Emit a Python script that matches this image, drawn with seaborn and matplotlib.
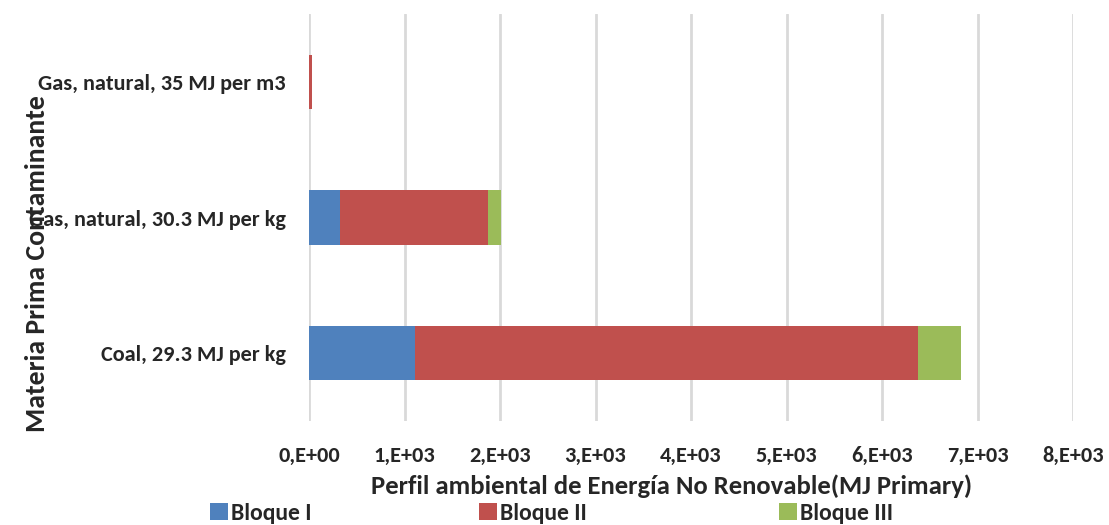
import numpy as np
import pandas as pd
import matplotlib
matplotlib.use("Agg")
import matplotlib.pyplot as plt
import seaborn as sns
from matplotlib.patches import Patch

categories = ["Gas, natural, 35 MJ per m3", "Gas, natural, 30.3 MJ per kg", "Coal, 29.3 MJ per kg"]
bloque_i = [0.0, 320.0, 1110.0]
bloque_ii = [30.0, 1555.0, 5270.0]
bloque_iii = [0.0, 135.0, 445.0]
series_names = ["Bloque I", "Bloque II", "Bloque III"]
x_ticks = [0, 1000, 2000, 3000, 4000, 5000, 6000, 7000, 8000]
x_tick_labels = ["0,E+00", "1,E+03", "2,E+03", "3,E+03", "4,E+03", "5,E+03", "6,E+03", "7,E+03", "8,E+03"]
x_label = "Perfil ambiental de Energía No Renovable(MJ Primary)"
y_label = "Materia Prima Contaminante"

colors = ["#4F81BD", "#C0504D", "#9BBB59"]
FAM = "Carlito"

sns.set_theme(style="white")
plt.rcParams["font.family"] = FAM
plt.rcParams["font.weight"] = "bold"

c1 = np.array(bloque_i)
c2 = c1 + np.array(bloque_ii)
c3 = c2 + np.array(bloque_iii)

fig = plt.figure(figsize=(11.09, 5.25), dpi=100)
ax = fig.add_axes([309/1109, 1-421/525, (1073-309)/1109, (421-14)/525])

for cum, col in zip([c3, c2, c1], [colors[2], colors[1], colors[0]]):
    df = pd.DataFrame({"cat": categories, "val": cum})
    sns.barplot(data=df, y="cat", x="val", color=col, orient="h", width=0.4,
                linewidth=0, saturation=1, ax=ax, order=categories)

ax.set_xlim(0, 8000)
ax.set_ylim(2.5, -0.5)
ax.set_xticks(x_ticks)
ax.set_xticklabels(x_tick_labels, fontsize=16, fontweight="bold", family=FAM)
ax.set_yticks(range(len(categories)))
ax.set_yticklabels(categories, fontsize=16, fontweight="bold", family=FAM)
ax.tick_params(axis="y", pad=17, length=0)
ax.tick_params(axis="x", pad=18, length=0)
ax.grid(axis="x", color="#D9D9D9", linewidth=2)
ax.set_axisbelow(True)
for s in ax.spines.values():
    s.set_visible(False)
ax.set_ylabel("")
ax.set_xlabel(x_label, fontsize=19.2, fontweight="bold", family=FAM, labelpad=6)
ax.xaxis.label.set_x((672 - 309) / (1073 - 309))

fig.text(37/1109, 1-264/525, y_label, rotation=90, ha="center", va="center",
         fontsize=20, fontweight="bold", family=FAM)

legend_x = [210, 479, 779]
for name, col, lx in zip(series_names, colors, legend_x):
    fig.legend([Patch(facecolor=col, edgecolor="none")], [name], loc="center left",
               bbox_to_anchor=(lx/1109, 1-513/525), frameon=False,
               prop={"family": FAM, "weight": "bold", "size": 17},
               handlelength=0.75, handleheight=0.75, handletextpad=0.15,
               borderaxespad=0, borderpad=0)

fig.savefig("out.png", dpi=100)
